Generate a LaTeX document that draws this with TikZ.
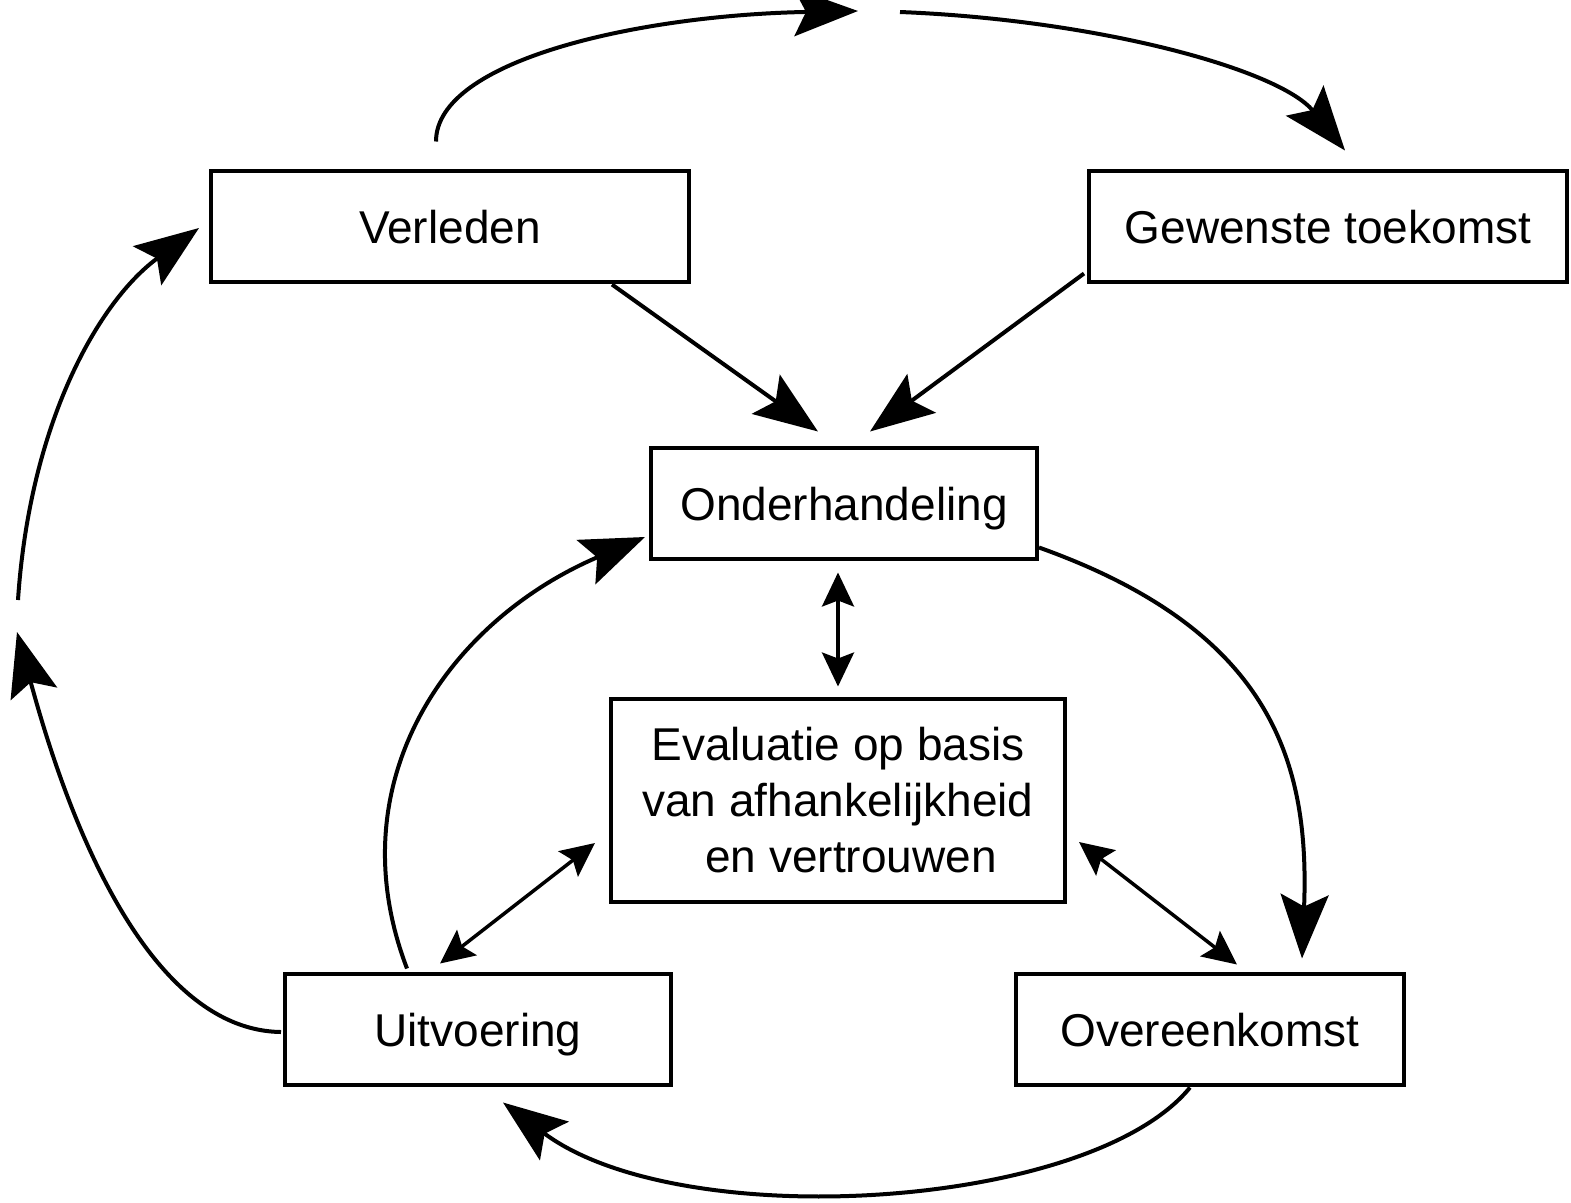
\documentclass[tikz,border=0pt]{standalone}
\usepackage{fontspec}
\setmainfont{Liberation Sans}
\usetikzlibrary{arrows.meta,calc}
\begin{document}
\begin{tikzpicture}[x=1pt,y=-1pt,
  box/.style={draw,line width=4pt,inner sep=0pt,align=center,
    font=\fontsize{46}{56}\selectfont},
  one/.style={text height=34pt,text depth=0pt},
  big/.style={line width=4pt,-{Stealth[length=64pt,width=48pt,inset=12pt]}},
  dbl/.style={line width=3.5pt,{Stealth[length=34pt,width=32pt,inset=6pt]}-{Stealth[length=34pt,width=32pt,inset=6pt]}}]
\useasboundingbox (0,0) rectangle (1571,1202);
\node[box,one,minimum width=478pt,minimum height=111pt] (ver) at (450,226) {Verleden};
\node[box,one,minimum width=478pt,minimum height=111pt] (gew) at (1328,226) {Gewenste toekomst};
\node[box,one,minimum width=386pt,minimum height=111pt] (ond) at (844,503) {Onderhandeling};
\node[box,minimum width=454pt,minimum height=203pt] (eva) at (838,800) {Evaluatie op basis\\van afhankelijkheid\\\hspace*{26pt}en vertrouwen};
\node[box,one,minimum width=386pt,minimum height=111pt] (uit) at (478,1029) {Uitvoering};
\node[box,one,minimum width=388pt,minimum height=111pt] (ove) at (1210,1029) {Overeenkomst};
\coordinate (topL) at (858,11);
\coordinate (topR) at (900,12);
\coordinate (leftA) at (17,632);
\coordinate (leftB) at (18,600);
% top arcs
\draw[big] ($(ver.north)+(-14,-27)$) .. controls (436,60) and (640,15) .. (topL);
\draw[big] (topR) .. controls (1100,20) and (1280,70) .. ($(gew.north)+(17,-18)$);
% into Onderhandeling
\draw[big] ($(ver.south)+(162,1)$) -- ($(ond.north)+(-26,-14)$);
\draw[big] ($(gew.south west)+(-3,-10)$) -- ($(ond.north)+(26,-14)$);
% cycle
\draw[big] ($(ond.south east)+(0,-13)$) .. controls (1270,630) and (1310,760) .. ($(ove.north)+(92,-13)$);
\draw[big] ($(ove.south)+(-20,1)$) .. controls (1090,1210) and (680,1235) .. ($(uit.south)+(25,16)$);
\draw[big] ($(uit.north)+(-71,-3)$) .. controls (335,780) and (450,620) .. ($(ond.west)+(-4,34)$);
% left arcs
\draw[big] ($(uit.west)+(-2,3)$) .. controls (130,1030) and (52,760) .. (leftA);
\draw[big] (leftB) .. controls (30,420) and (100,300) .. ($(ver.west)+(-10,2)$);
% double arrows
\draw[dbl] ($(ond.south)+(-6,12)$) -- ($(eva.north)+(0,-10)$);
\draw[dbl] ($(eva.west)+(-14,43)$) -- ($(uit.north)+(-38,-8)$);
\draw[dbl] ($(eva.east)+(12,42)$) -- ($(ove.north)+(27,-7)$);
\end{tikzpicture}
\end{document}
